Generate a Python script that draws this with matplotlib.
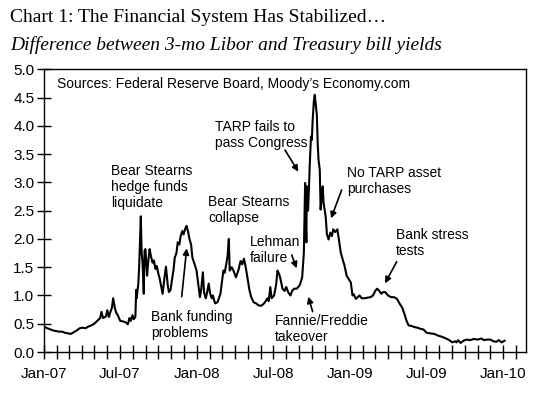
import matplotlib
matplotlib.use('Agg')
import numpy as np
import pandas as pd
import matplotlib.pyplot as plt
import matplotlib.dates as mdates
from matplotlib.ticker import FormatStrFormatter

# 3-mo Libor minus T-bill spread
dates_07 = ["2007-01-02", "2007-01-09", "2007-01-16", "2007-01-23", "2007-01-30",
            "2007-02-06", "2007-02-13", "2007-02-20", "2007-02-27", "2007-03-06",
            "2007-03-13", "2007-03-20", "2007-03-27", "2007-04-03", "2007-04-10",
            "2007-04-17", "2007-04-24", "2007-05-01", "2007-05-08", "2007-05-15",
            "2007-05-18", "2007-05-22", "2007-05-29", "2007-06-01", "2007-06-05",
            "2007-06-08", "2007-06-12", "2007-06-15", "2007-06-19", "2007-06-22",
            "2007-06-26", "2007-07-02", "2007-07-09", "2007-07-16", "2007-07-20",
            "2007-07-24", "2007-07-27", "2007-07-31", "2007-08-03", "2007-08-07",
            "2007-08-09", "2007-08-10", "2007-08-14", "2007-08-16", "2007-08-20",
            "2007-08-22", "2007-08-24", "2007-08-27", "2007-08-29", "2007-08-31",
            "2007-09-04", "2007-09-06", "2007-09-10", "2007-09-13", "2007-09-17",
            "2007-09-20", "2007-09-24", "2007-09-27", "2007-10-01", "2007-10-04",
            "2007-10-08", "2007-10-11", "2007-10-16", "2007-10-19", "2007-10-23",
            "2007-10-26", "2007-10-30", "2007-11-02", "2007-11-06", "2007-11-09",
            "2007-11-13", "2007-11-16", "2007-11-20", "2007-11-23", "2007-11-27",
            "2007-11-30", "2007-12-04", "2007-12-07", "2007-12-11", "2007-12-14",
            "2007-12-18", "2007-12-21", "2007-12-26", "2007-12-31"]
vals_07 = [0.44, 0.42, 0.40, 0.38, 0.37,
           0.36, 0.36, 0.34, 0.33, 0.32,
           0.35, 0.38, 0.42, 0.43, 0.42,
           0.45, 0.47, 0.50, 0.55, 0.60,
           0.71, 0.60, 0.63, 0.74, 0.62,
           0.70, 0.78, 0.95, 0.78, 0.70,
           0.65, 0.55, 0.54, 0.52, 0.49,
           0.60, 0.55, 0.65, 0.58, 0.62,
           1.10, 0.95, 1.20, 1.50, 2.40,
           1.75, 1.60, 1.03, 1.80, 1.82,
           1.35, 1.55, 1.82, 1.70, 1.58,
           1.62, 1.47, 1.52, 1.38, 1.30,
           1.15, 1.03, 1.35, 1.51, 1.20,
           1.06, 1.10, 1.26, 1.45, 1.67,
           1.75, 1.94, 1.90, 2.05, 2.14,
           2.08, 2.18, 2.23, 2.12, 2.00,
           1.90, 1.67, 1.56, 1.44]

dates_08 = ["2008-01-04", "2008-01-08", "2008-01-11", "2008-01-15", "2008-01-18",
            "2008-01-22", "2008-01-25", "2008-01-29", "2008-02-01", "2008-02-05",
            "2008-02-08", "2008-02-13", "2008-02-19", "2008-02-26", "2008-03-04",
            "2008-03-07", "2008-03-11", "2008-03-14", "2008-03-17", "2008-03-19",
            "2008-03-24", "2008-03-28", "2008-04-03", "2008-04-09", "2008-04-14",
            "2008-04-18", "2008-04-22", "2008-04-25", "2008-04-29", "2008-05-05",
            "2008-05-09", "2008-05-15", "2008-05-21", "2008-05-28", "2008-06-03",
            "2008-06-09", "2008-06-13", "2008-06-17", "2008-06-20", "2008-06-24",
            "2008-06-27", "2008-07-03", "2008-07-08", "2008-07-11", "2008-07-15",
            "2008-07-18", "2008-07-23", "2008-07-28", "2008-08-01", "2008-08-06",
            "2008-08-11", "2008-08-15", "2008-08-20", "2008-08-26", "2008-09-02",
            "2008-09-08", "2008-09-12", "2008-09-15", "2008-09-17", "2008-09-18",
            "2008-09-19", "2008-09-22", "2008-09-24", "2008-09-26", "2008-09-29",
            "2008-10-01", "2008-10-03", "2008-10-06", "2008-10-08", "2008-10-10",
            "2008-10-13", "2008-10-15", "2008-10-17", "2008-10-20", "2008-10-22",
            "2008-10-24", "2008-10-27", "2008-10-29", "2008-11-03", "2008-11-06",
            "2008-11-10", "2008-11-14", "2008-11-18", "2008-11-21", "2008-11-26",
            "2008-12-01", "2008-12-04", "2008-12-09", "2008-12-15", "2008-12-18",
            "2008-12-23", "2008-12-29"]
vals_08 = [1.20, 0.97, 1.10, 1.41, 1.05,
           0.95, 1.05, 1.21, 1.05, 0.95,
           1.00, 0.86, 0.88, 1.03, 1.44,
           1.40, 1.56, 1.70, 2.00, 1.44,
           1.50, 1.44, 1.32, 1.45, 1.61,
           1.55, 1.65, 1.55, 1.38, 1.10,
           0.98, 0.88, 0.86, 0.82, 0.82,
           0.86, 0.90, 0.95, 0.90, 1.15,
           0.95, 1.00, 1.20, 1.44, 1.38,
           1.30, 1.12, 1.08, 1.15, 1.05,
           1.00, 1.08, 1.12, 1.12, 1.18,
           1.32, 1.76, 2.99, 2.20, 1.94,
           2.93, 2.50, 2.87, 3.30, 3.81,
           3.75, 4.10, 4.45, 4.55, 4.40,
           4.19, 3.69, 3.40, 3.22, 2.52,
           2.70, 2.93, 2.64, 2.40, 2.08,
           1.99, 2.11, 2.05, 2.17, 2.12,
           2.17, 2.02, 1.76, 1.60, 1.53,
           1.35, 1.28]

dates_09 = ["2009-01-02", "2009-01-06", "2009-01-09", "2009-01-14", "2009-01-20",
            "2009-01-23", "2009-01-28", "2009-02-03", "2009-02-10", "2009-02-18",
            "2009-02-24", "2009-03-02", "2009-03-06", "2009-03-11", "2009-03-16",
            "2009-03-20", "2009-03-25", "2009-04-01", "2009-04-08", "2009-04-15",
            "2009-04-22", "2009-04-29", "2009-05-05", "2009-05-11", "2009-05-15",
            "2009-05-20", "2009-05-27", "2009-06-03", "2009-06-10", "2009-06-17",
            "2009-06-24", "2009-07-02", "2009-07-10", "2009-07-20", "2009-07-29",
            "2009-08-07", "2009-08-17", "2009-08-25", "2009-09-01", "2009-09-08",
            "2009-09-11", "2009-09-15", "2009-09-21", "2009-09-28", "2009-10-05",
            "2009-10-14", "2009-10-22", "2009-11-02", "2009-11-09", "2009-11-16",
            "2009-11-24", "2009-12-01", "2009-12-08", "2009-12-15", "2009-12-21",
            "2009-12-28", "2010-01-04"]
vals_09 = [1.23, 1.00, 1.02, 0.94, 0.98,
           1.00, 0.95, 0.95, 0.96, 0.97,
           1.00, 1.09, 1.12, 1.08, 1.03,
           1.06, 1.06, 1.00, 0.97, 0.97,
           0.94, 0.85, 0.78, 0.65, 0.55,
           0.47, 0.46, 0.44, 0.43, 0.41,
           0.40, 0.34, 0.33, 0.32, 0.29,
           0.27, 0.24, 0.21, 0.17, 0.19,
           0.17, 0.21, 0.16, 0.20, 0.22,
           0.21, 0.23, 0.22, 0.24, 0.21,
           0.22, 0.22, 0.19, 0.18, 0.21,
           0.17, 0.20]

dates = pd.to_datetime(dates_07 + dates_08 + dates_09)
spread = np.array(vals_07 + vals_08 + vals_09)

W, H = 560, 407
AX_L, AX_R, AX_T, AX_B = 44, 526, 69.3, 352


def px(x, y):
    # pixel position of the reference -> axes fraction
    return ((x - AX_L) / (AX_R - AX_L), (AX_B - y) / (AX_B - AX_T))


fig = plt.figure(figsize=(W / 100, H / 100), dpi=100)
ax = fig.add_axes([AX_L / W, 1 - AX_B / H, (AX_R - AX_L) / W, (AX_B - AX_T) / H])

ax.plot(dates, spread, color='black', lw=1.5)

ax.set_xlim(pd.Timestamp('2007-01-01'), pd.Timestamp('2010-02-24'))
ax.set_ylim(0, 5)
ax.set_yticks(np.arange(0, 5.01, 0.5))
ax.yaxis.set_major_formatter(FormatStrFormatter('%.1f'))
ax.xaxis.set_major_locator(mdates.MonthLocator(bymonth=[1, 7]))
ax.xaxis.set_minor_locator(mdates.MonthLocator())
ax.xaxis.set_major_formatter(mdates.DateFormatter('%b-%y'))

font = 'Liberation Sans'
ax.tick_params(axis='both', which='both', direction='inout', length=10, width=1,
               labelsize=11, colors='black')
ax.tick_params(axis='x', pad=6)
ax.tick_params(axis='y', pad=2)
for lab in ax.get_xticklabels() + ax.get_yticklabels():
    lab.set_fontfamily(font)
for s in ax.spines.values():
    s.set_linewidth(1)
    s.set_color('black')

fig.text(10 / W, 1 - 18 / H, 'Chart 1: The Financial System Has Stabilized\u2026',
         family='Liberation Serif', fontsize=14, va='center', ha='left')
fig.text(10 / W, 1 - 45 / H, 'Difference between 3-mo Libor and Treasury bill yields',
         family='Liberation Serif', style='italic', fontsize=14, va='center', ha='left')

ax.text(*px(57, 84), 'Sources: Federal Reserve Board, Moody\u2019s Economy.com',
        transform=ax.transAxes, family=font, fontsize=10, va='center', ha='left')

labels = [
    ('Bear Stearns\nhedge funds\nliquidate', 111, 187),
    ('Bank funding\nproblems', 151, 325),
    ('Bear Stearns\ncollapse', 208, 210),
    ('Lehman\nfailure', 250, 250),
    ('TARP fails to\npass Congress', 215, 135),
    ('No TARP asset\npurchases', 347, 181),
    ('Bank stress\ntests', 396, 243),
    ('Fannie/Freddie\ntakeover', 275, 329),
]
for txt, x, y in labels:
    ax.text(*px(x, y), txt, transform=ax.transAxes, family=font, fontsize=10,
            va='center', ha='left', linespacing=1.2)

arrows = [
    ((181.7, 296.7), (186.7, 248.3)),
    ((291.7, 255.0), (296.7, 268.3)),
    ((285.0, 150.0), (298.3, 171.7)),
    ((341.7, 190.0), (331.0, 218.3)),
    ((396.7, 261.7), (385.0, 283.3)),
    ((312.7, 311.7), (308.3, 296.7)),
]
for start, tip in arrows:
    ax.annotate('', xy=px(*tip), xytext=px(*start), xycoords='axes fraction',
                textcoords='axes fraction',
                arrowprops=dict(arrowstyle='-|>', color='black', lw=1.2,
                                mutation_scale=9, shrinkA=0, shrinkB=0))

fig.savefig('out.png', dpi=100)
